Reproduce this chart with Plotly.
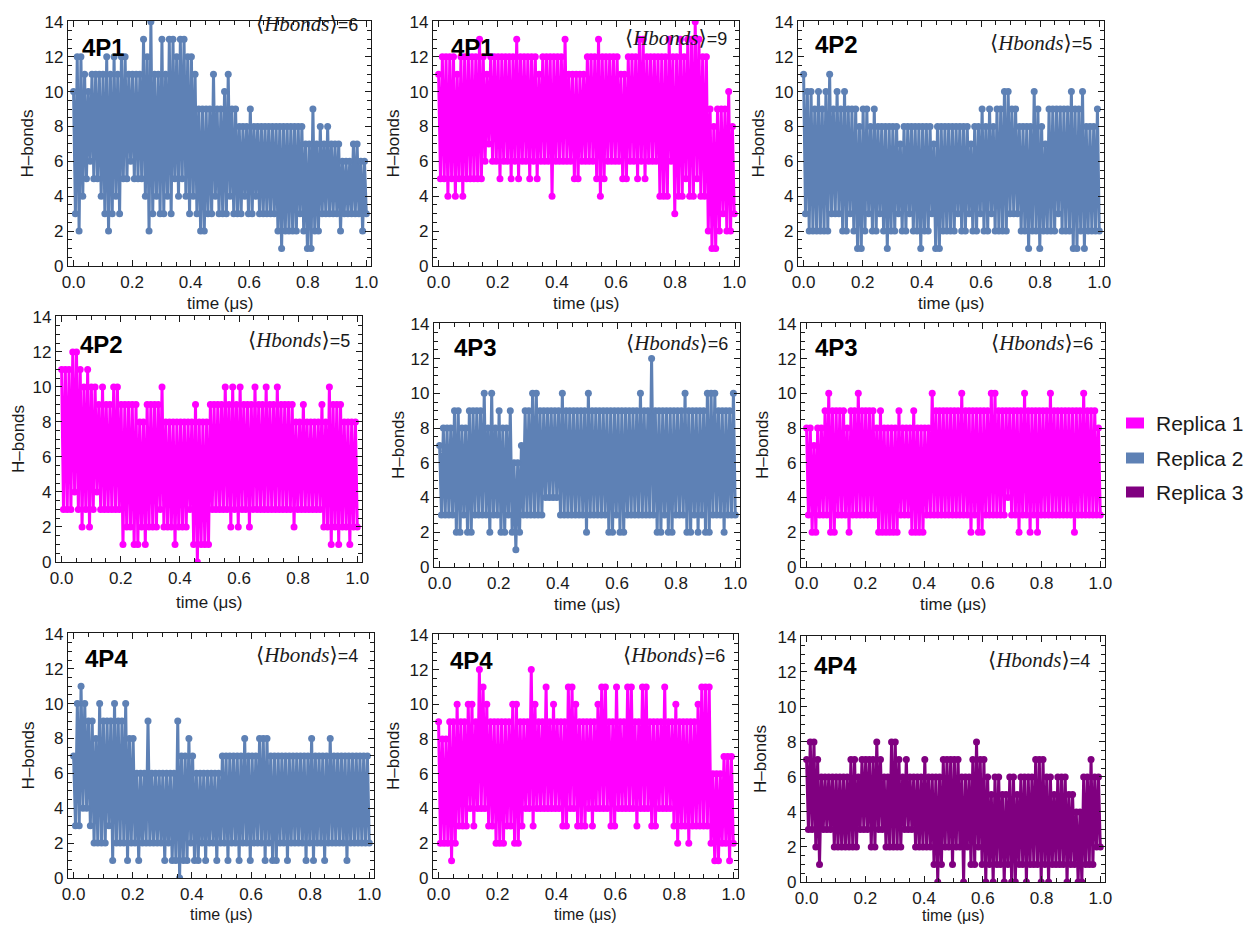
import numpy as np
import plotly.graph_objects as go

# The page body has an 8 px margin, so the figure is 16 px smaller than the
# window and all pixel positions below are shifted by that margin.
PAGE_W, PAGE_H, BODY_MARGIN = 1256, 932, 8
W, H = PAGE_W - 2 * BODY_MARGIN, PAGE_H - 2 * BODY_MARGIN

# ---------------- data (H-bond counts) ----------------
# Each panel: successive local maxima (hi) and minima (lo) of the time series,
# the trace alternates hi[i], lo[i] along time 0..1 us.

# 4P1, Replica 2
p1_hi = [10,12,12,11,10,11,11,11, 11,12,11,12,11,12,12,11, 11,11,11,13,12,14,11,11,
         13,11,13,13,12,13,13,12, 12,11,9,9,9,9,11,9, 9,10,11,9,9,8,8,8,
         9,8,8,8,8,8,8,8, 8,8,8,8,8,8,8,7, 7,9,7,8,7,8,7,7, 7,6,6,6,7,7,6,6]
p1_lo = [3,2,4,5,6,5,5,4, 3,2,3,4,3,5,5,6, 5,5,5,4,2,3,4,3,
         3,4,3,5,4,5,4,3, 4,3,2,2,3,3,4,3, 3,3,4,3,3,3,4,3,
         3,4,3,3,3,3,3,2, 1,2,2,2,2,3,2,1, 1,2,2,3,3,3,3,3, 2,3,3,3,3,3,2,3]

# 4P1, Replica 1
p2_hi = [11,12,12,12,12,11,12,12, 12,12,12,13,12,11,12,12, 12,12,12,12,12,13,12,12,
         12,12,12,11,12,12,12,12, 12,12,13,11,11,11,11,11, 12,12,12,13,12,12,12,12,
         12,11,11,12,12,12,13,13, 12,12,12,12,12,12,13,12, 12,13,12,13,13,14,13,12,
         12,9,8,9,9,9,10,8]
p2_lo = [5,5,4,5,4,5,4,5, 5,5,5,5,6,7,6,6, 5,6,6,5,6,5,6,6,
         5,6,5,6,6,6,4,6, 6,6,6,6,5,5,6,6, 6,6,5,4,5,6,6,6,
         6,5,5,6,6,5,6,5, 6,6,6,4,4,4,6,3, 4,4,5,4,4,5,4,4, 2,1,1,2,3,2,2,3]

# 4P2, Replica 2
p3_hi = [11,10,10,9,10,9,10,11, 9,10,9,10,9,9,9,8, 9,9,8,9,8,8,8,8,
         8,8,7,8,8,8,8,8, 8,8,8,7,8,8,8,8, 8,8,8,8,8,7,8,8,
         9,8,9,8,9,9,10,10, 9,9,8,8,8,8,10,9, 8,7,9,9,9,9,9,9, 10,9,9,10,8,8,8,9]
p3_lo = [3,2,2,2,2,2,2,3, 3,3,2,2,3,2,1,1, 2,3,2,2,3,2,1,2,
         2,3,2,2,3,2,2,1, 2,2,3,1,1,2,2,2, 2,3,2,2,3,2,2,3,
         2,2,3,2,2,2,2,3, 3,3,2,2,1,2,2,1, 2,2,2,2,3,2,2,2, 1,1,2,1,2,2,2,2]

# 4P2, Replica 1
p4_hi = [11,11,11,12,12,11,10,11, 10,10,9,10,9,9,10,10, 9,9,9,9,9,8,8,9,
         9,9,9,10,8,8,8,8, 8,8,8,8,9,8,8,8, 9,9,9,9,10,9,10,9,
         10,9,9,9,10,9,9,10, 9,9,10,9,9,9,9,8, 8,9,8,8,8,8,9,8, 10,9,9,9,8,8,8,8]
p4_lo = [3,3,3,4,3,2,3,2, 3,4,3,3,3,3,3,3, 1,2,2,1,1,2,1,2,
         2,2,3,2,2,2,1,2, 2,2,3,1,0,1,1,1, 3,3,3,3,3,2,3,2,
         3,3,2,3,3,3,3,3, 3,3,3,3,3,3,2,3, 3,3,3,3,3,3,2,2, 1,2,1,2,2,1,2,2]

# 4P3, Replica 2
p5_hi = [7,8,8,8,9,9,8,8, 9,9,9,9,10,8,10,8, 9,8,8,9,6,6,7,9,
         9,10,10,9,9,9,9,9, 9,10,9,9,9,9,9,9, 10,9,9,9,9,9,9,9,
         9,9,9,9,9,9,10,9, 9,12,9,9,9,9,9,9, 9,9,10,9,9,9,9,9, 10,10,10,9,9,9,9,10]
p5_lo = [3,3,3,3,2,2,3,2, 2,3,3,3,3,2,3,3, 2,2,3,2,1,2,3,3,
         3,3,3,3,4,4,4,4, 3,3,3,3,3,3,3,2, 3,3,3,3,3,2,2,3,
         2,2,3,3,3,3,3,3, 3,3,2,2,3,2,2,3, 3,3,2,2,3,2,3,2, 2,3,3,3,2,3,3,3]

# 4P3, Replica 1
p6_hi = [8,8,7,8,8,9,10,9, 9,9,9,8,9,9,10,9, 9,9,9,8,9,8,8,8,
         8,9,8,8,8,9,8,8, 8,8,10,9,9,9,9,9, 9,9,10,9,9,9,9,9,
         9,9,10,10,9,9,9,9, 9,9,9,10,9,9,9,9, 9,9,10,9,9,9,9,9, 9,9,9,10,9,9,9,8]
p6_lo = [3,2,2,3,3,3,2,2, 3,3,3,2,3,3,3,3, 3,3,3,2,2,2,2,2,
         2,3,3,3,2,2,2,2, 3,3,3,3,3,3,3,3, 3,3,3,3,2,3,2,2,
         3,3,3,3,3,3,4,3, 3,2,3,3,2,3,2,3, 3,3,3,3,3,3,3,3, 2,3,3,3,3,3,3,3]

# 4P4, Replica 2
p7_hi = [7,10,11,10,9,9,8,10, 9,9,9,10,9,9,10,8, 8,6,6,6,9,6,6,6,
         6,6,6,6,9,7,7,8, 7,6,6,6,6,6,6,6, 7,7,7,7,7,7,8,7,
         7,7,8,8,8,7,7,7, 7,7,7,7,7,7,7,7, 8,7,7,7,7,8,7,7, 7,7,7,7,7,7,7,7]
p7_lo = [3,3,4,4,3,2,2,2, 2,3,1,2,2,2,1,2, 2,1,2,2,2,2,2,2,
         1,2,1,1,0,1,1,2, 1,1,2,1,2,2,1,2, 2,1,2,2,1,2,2,1,
         2,2,2,1,2,1,1,2, 2,1,2,2,2,2,1,2, 1,2,2,1,2,2,2,2, 2,1,2,2,2,2,2,2]

# 4P4, Replica 1
p8_hi = [9,8,8,9,9,10,9,9, 10,10,9,12,11,10,9,9, 9,9,9,9,10,10,9,9,
         9,12,10,9,9,11,9,10, 9,9,9,11,11,10,9,9, 9,9,9,10,11,11,9,9,
         11,9,9,11,11,9,9,11, 11,9,9,9,9,11,9,9, 10,9,9,9,9,9,10,11, 11,11,6,6,6,7,7,7]
p8_lo = [2,2,2,1,2,3,3,3, 4,3,4,4,4,3,3,2, 2,2,3,3,2,2,3,4,
         4,3,4,4,4,4,4,4, 4,3,3,4,4,3,3,3, 4,3,4,4,4,4,3,3,
         4,4,4,4,4,3,4,4, 4,3,3,4,4,4,4,3, 2,3,3,2,3,3,3,3, 3,2,1,1,2,2,1,2]

# 4P4, Replica 3
p9_hi = [7,8,8,7,6,6,6,6, 6,6,6,6,7,7,6,7, 7,7,7,8,7,6,6,8,
         8,7,6,7,6,6,6,6, 7,6,6,6,6,7,7,7, 7,7,6,6,6,7,8,7,
         7,6,5,6,6,5,5,6, 6,5,6,6,6,6,7,7, 7,6,6,5,6,6,6,5, 5,4,4,6,6,7,6,6]
p9_lo = [3,3,2,1,3,3,3,2, 2,2,2,2,2,2,3,3, 3,2,2,3,3,2,2,2,
         2,2,3,3,3,2,2,2, 2,2,1,0,1,2,2,1, 2,2,0,2,1,1,2,1,
         0,1,0,1,1,0,1,0, 0,1,1,0,1,1,1,0, 1,0,1,1,1,1,0,1, 1,0,0,1,1,1,2,2]

panel_names = ["4P1", "4P1", "4P2", "4P2", "4P3", "4P3", "4P4", "4P4", "4P4"]
panel_means = [6, 9, 5, 5, 6, 6, 4, 6, 4]
panel_replica = [2, 1, 2, 1, 2, 1, 2, 1, 3]
panel_hi = [p1_hi, p2_hi, p3_hi, p4_hi, p5_hi, p6_hi, p7_hi, p8_hi, p9_hi]
panel_lo = [p1_lo, p2_lo, p3_lo, p4_lo, p5_lo, p6_lo, p7_lo, p8_lo, p9_lo]

legend_labels = ["Replica 1", "Replica 2", "Replica 3"]
x_ticks = [0.0, 0.2, 0.4, 0.6, 0.8, 1.0]
y_ticks = [0, 2, 4, 6, 8, 10, 12, 14]

# ---------------- styling / layout ----------------
REPLICA_COLORS = {1: "#FF00FF", 2: "#5E81B5", 3: "#800080"}
FRAME = "#1a1a1a"
TXT = "#1a1a1a"
SANS = "Liberation Sans, Arial, sans-serif"
SERIF = "Liberation Serif, DejaVu Serif, serif"

# frame pixel boxes in window pixels (left, right, top, bottom)
frames = [(68, 371, 21, 266), (433, 739, 21, 266), (798, 1104, 21, 266),
          (56, 362, 316, 562), (434, 740, 323, 567), (801, 1105, 323, 567),
          (68, 374, 633, 878), (433, 738, 634, 878), (801, 1105, 636, 882)]
title_pos = [(80, 47), (449, 47), (813, 45), (78, 345), (452, 347), (813, 347),
             (83, 658), (448, 660), (812, 665)]
mean_pos = [(360, 24), (729, 38), (1094, 43), (352, 340), (730, 343), (1095, 343),
            (360, 655), (727, 655), (1092, 660)]
ylab_x = [27, 393, 758, 18, 398, 762, 28, 393, 760]
xlab_y = [303, 303, 303, 602, 604, 604, 914, 914, 915]
xlab_size = [17, 17, 17, 17, 17, 17, 16, 16, 16]


def px(x):
    return (x - BODY_MARGIN) / W


def py(y):
    return 1 - (y - BODY_MARGIN) / H


fig = go.Figure()
annotations = []
shapes = []

for k in range(9):
    n = k + 1
    xa = "x" if n == 1 else f"x{n}"
    ya = "y" if n == 1 else f"y{n}"
    color = REPLICA_COLORS[panel_replica[k]]
    vals = [v for pair in zip(panel_hi[k], panel_lo[k]) for v in pair]
    t = np.linspace(0.0, 1.0, len(vals))
    fig.add_trace(go.Scatter(
        x=t, y=vals, mode="lines+markers", xaxis=xa, yaxis=ya,
        line=dict(color=color, width=3),
        marker=dict(color=color, size=7),
        showlegend=False, hoverinfo="skip"))

    l, r, tp, b = frames[k]
    common = dict(showline=True, linecolor=FRAME, linewidth=1.4, mirror="allticks",
                  ticks="inside", tickcolor=FRAME, tickwidth=1, ticklen=6,
                  showgrid=False, zeroline=False, automargin=False,
                  tickfont=dict(family=SANS, size=17, color=TXT))
    fig.update_layout(**{
        ("xaxis" if n == 1 else f"xaxis{n}"): dict(
            domain=[px(l), px(r)], anchor=ya, range=[-0.019, 1.016],
            tickvals=x_ticks, tickformat=".1f",
            minor=dict(ticks="inside", ticklen=3.5, dtick=0.05, tick0=0,
                       tickcolor=FRAME, showgrid=False),
            **common),
        ("yaxis" if n == 1 else f"yaxis{n}"): dict(
            domain=[py(b), py(tp)], anchor=xa, range=[0, 14.05],
            tickvals=y_ticks,
            minor=dict(ticks="inside", ticklen=3.5, dtick=0.5, tick0=0,
                       tickcolor=FRAME, showgrid=False),
            **common),
    })

    # panel label
    annotations.append(dict(
        x=px(title_pos[k][0]), y=py(title_pos[k][1]), xref="paper", yref="paper",
        xanchor="left", yanchor="middle", showarrow=False,
        text=f"<b>{panel_names[k]}</b>",
        font=dict(family=SANS, size=24, color="#000")))
    # mean H-bond label
    annotations.append(dict(
        x=px(mean_pos[k][0]), y=py(mean_pos[k][1]), xref="paper", yref="paper",
        xanchor="right", yanchor="middle", showarrow=False,
        text=(f"<span style=\"font-family:{SERIF};font-size:21px\">⟨<i>Hbonds</i>⟩</span>"
              f"={panel_means[k]}"),
        font=dict(family=SANS, size=18, color=TXT)))
    # axis titles
    annotations.append(dict(
        x=px(ylab_x[k]), y=py((tp + b) / 2), xref="paper", yref="paper",
        xanchor="center", yanchor="middle", showarrow=False, textangle=-90,
        text="H–bonds", font=dict(family=SANS, size=17, color=TXT)))
    x0p = l + 0.019 / 1.035 * (r - l)
    x1p = l + 1.019 / 1.035 * (r - l)
    annotations.append(dict(
        x=px((x0p + x1p) / 2), y=py(xlab_y[k]), xref="paper", yref="paper",
        xanchor="center", yanchor="middle", showarrow=False,
        text="time (μs)", font=dict(family=SANS, size=xlab_size[k], color=TXT)))

# legend (manual)
legend_y = [423, 458, 492]
for lab, yy, rep in zip(legend_labels, legend_y, [1, 2, 3]):
    shapes.append(dict(type="rect", xref="paper", yref="paper",
                       x0=px(1126), x1=px(1144), y0=py(yy + 5.5), y1=py(yy - 5.5),
                       fillcolor=REPLICA_COLORS[rep], line=dict(width=0)))
    annotations.append(dict(
        x=px(1154), y=py(yy), xref="paper", yref="paper", xanchor="left",
        yanchor="middle", showarrow=False, text=lab,
        font=dict(family=SANS, size=21, color=TXT)))

fig.update_layout(
    width=W, height=H, margin=dict(l=0, r=0, t=0, b=0, autoexpand=False),
    paper_bgcolor="white", plot_bgcolor="white", showlegend=False,
    annotations=annotations, shapes=shapes)

fig.write_html("out.html")
